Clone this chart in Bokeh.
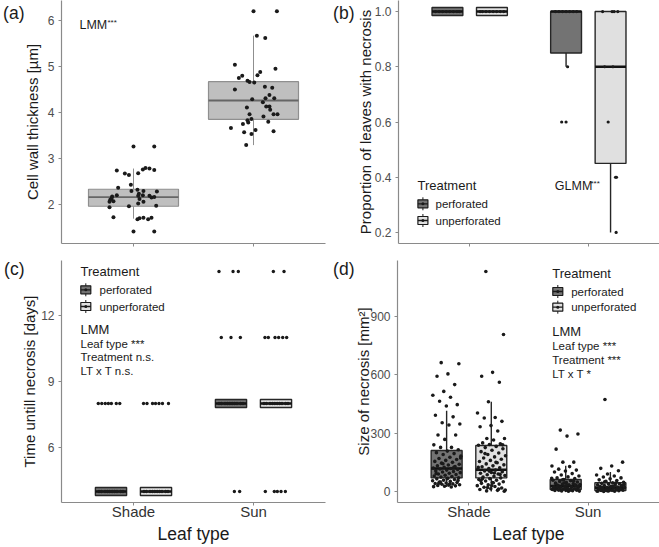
import math
from bokeh.plotting import figure
from bokeh.models import Range1d, FixedTicker, Label, LinearAxis
from bokeh.layouts import column, row
from bokeh.embed import file_html
from bokeh.resources import INLINE

FONT = "Liberation Sans"
INK = "#1a1a1a"
AXIS_GREY = "#8a8a8a"
TICK_TXT = "#4d4d4d"

# ---------------- data ----------------
leaf_types = ["Shade", "Sun"]
treatments = ["perforated", "unperforated"]
leaf_pos = [1, 2]
panel_tags = ["(a)", "(b)", "(c)", "(d)"]

# (a) cell wall thickness [um]
a_shade_thick = [3.26, 3.26, 2.74, 2.67, 2.64, 2.68, 2.76, 2.79, 2.78, 2.75, 2.43, 2.36, 2.29, 2.32,
                 2.29, 2.28, 2.23, 2.20, 2.19, 2.20, 2.17, 2.19, 2.15, 2.16, 2.13, 2.10, 2.07, 2.06,
                 2.12, 2.06, 2.02, 1.94, 1.96, 1.97, 1.72, 1.68, 1.70, 1.71, 1.68, 1.71, 1.41, 1.41]
a_shade_jitter = [0.0, 0.173, -0.139, -0.072, -0.038, 0.039, 0.078, 0.100, 0.133, 0.173, -0.022, -0.128,
                  -0.017, 0.033, 0.083, 0.195, 0.045, 0.078, 0.039, -0.139, -0.178, 0.133, 0.150, 0.173,
                  -0.183, -0.194, -0.167, -0.200, 0.050, 0.083, 0.039, -0.200, -0.038, 0.189, -0.167,
                  0.033, 0.050, 0.083, 0.122, 0.150, 0.0, 0.173]
a_sun_thick = [6.20, 6.20, 5.67, 5.62, 5.04, 4.95, 4.88, 4.81, 4.80, 4.75, 4.69, 4.66, 4.65, 4.56, 4.54,
               4.50, 4.38, 4.31, 4.31, 4.29, 4.22, 4.13, 4.13, 4.06, 4.11, 3.96, 3.96, 3.96, 3.91, 3.86,
               3.83, 3.78, 3.80, 3.75, 3.66, 3.62, 3.57, 3.59, 3.53, 3.29]
a_sun_jitter = [0.0, 0.195, 0.028, 0.098, -0.155, 0.183, 0.056, 0.033, -0.094, -0.122, -0.050, -0.033,
                0.006, 0.095, 0.156, -0.155, 0.133, 0.100, 0.173, -0.011, 0.078, 0.106, 0.133, 0.139,
                -0.055, -0.033, 0.167, 0.200, 0.083, -0.017, -0.050, -0.044, 0.123, -0.088, -0.188,
                0.017, -0.078, 0.167, -0.017, -0.061]
a_q1 = [1.96, 3.85]
a_med = [2.16, 4.26]
a_q3 = [2.33, 4.67]
a_lo = [1.69, 3.29]
a_hi = [2.78, 5.67]

# (b) proportion of leaves with necrosis
b_q1_perf = [1.0, 0.85]
b_med_perf = [1.0, 1.0]
b_q3_perf = [1.0, 1.0]
b_lo_perf = [1.0, 0.80]
b_hi_perf = [1.0, 1.0]
b_q1_unperf = [1.0, 0.45]
b_med_unperf = [1.0, 0.80]
b_q3_unperf = [1.0, 1.0]
b_lo_unperf = [1.0, 0.20]
b_hi_unperf = [1.0, 1.0]
b_shade_perf = [1.0, 1.0, 1.0, 1.0, 1.0, 1.0, 1.0, 1.0]
b_shade_perf_jit = [-0.10, -0.07, -0.04, -0.01, 0.02, 0.05, 0.08, 0.10]
b_shade_unperf = [1.0, 1.0, 1.0, 1.0, 1.0, 1.0, 1.0, 1.0]
b_shade_unperf_jit = [-0.10, -0.08, -0.05, -0.02, 0.01, 0.04, 0.07, 0.10]
b_sun_perf = [0.6, 0.6, 0.8, 1.0, 1.0, 1.0, 1.0, 1.0, 1.0, 1.0]
b_sun_perf_jit = [-0.037, 0.0, 0.013, -0.09, -0.06, -0.03, 0.0, 0.03, 0.06, 0.09]
b_sun_unperf = [0.2, 0.4, 0.4, 0.6, 0.8, 0.8, 1.0, 1.0, 1.0, 1.0]
b_sun_unperf_jit = [0.047, 0.042, 0.050, -0.020, -0.050, 0.020, -0.067, 0.013, 0.030, 0.061]

# (c) time until necrosis [days]
c_med = [4, 8]
c_shade_perf = [8, 8, 8, 8, 8, 8, 8, 4, 4, 4, 4, 4, 4, 4, 4, 4, 4]
c_shade_perf_jit = [-0.106, -0.077, -0.048, -0.022, 0.003, 0.044, 0.073,
                    -0.10, -0.08, -0.05, -0.03, -0.01, 0.01, 0.03, 0.05, 0.08, 0.10]
c_shade_unperf = [8, 8, 8, 8, 8, 8, 8, 4, 4, 4, 4, 4, 4, 4, 4, 4, 4]
c_shade_unperf_jit = [-0.104, -0.075, -0.029, -0.004, 0.025, 0.054, 0.104,
                      -0.10, -0.08, -0.05, -0.03, -0.01, 0.01, 0.03, 0.05, 0.08, 0.10]
c_sun_perf = [14, 14, 14, 11, 11, 11, 4, 4, 8, 8, 8, 8, 8, 8, 8, 8, 8, 8]
c_sun_perf_jit = [-0.100, 0.017, 0.061, -0.081, 0.0, 0.078, 0.028, 0.072,
                  -0.10, -0.08, -0.05, -0.03, -0.01, 0.01, 0.03, 0.05, 0.08, 0.10]
c_sun_unperf = [14, 14, 11, 11, 11, 11, 11, 11, 4, 4, 4, 4, 4, 8, 8, 8, 8, 8, 8, 8, 8, 8, 8]
c_sun_unperf_jit = [-0.022, 0.067, -0.092, -0.064, -0.008, 0.022, 0.056, 0.089,
                    -0.089, -0.014, 0.011, 0.042, 0.078,
                    -0.10, -0.08, -0.05, -0.03, -0.01, 0.01, 0.03, 0.05, 0.08, 0.10]

# (d) size of necrosis [mm2]
d_q1_perf = [70, 10]
d_med_perf = [118, 28]
d_q3_perf = [211, 62]
d_lo_perf = [23, 0]
d_hi_perf = [416, 132]
d_q1_unperf = [70, 5]
d_med_unperf = [112, 20]
d_q3_unperf = [237, 45]
d_lo_unperf = [0, 0]
d_hi_unperf = [462, 100]
d_shade_perf = [663, 657, 605, 593, 550, 515, 495, 485, 464, 447, 440, 392, 384, 354, 347, 342, 291, 291,
                268, 240, 227, 227, 215, 208, 200, 195, 190, 182, 176, 170, 165, 160, 155, 150, 146, 140,
                136, 132, 128, 125, 121, 118, 116, 113, 110, 106, 103, 100, 97, 94, 90, 87, 84, 80, 77,
                74, 71, 68, 65, 62, 58, 55, 52, 49, 46, 44, 41, 39, 37, 35, 33, 31, 29, 27, 25, 23, 48,
                57, 66, 93, 124, 143, 172, 38, 42]
d_shade_unperf = [1132, 808, 613, 593, 562, 462, 404, 381, 378, 361, 339, 333, 311, 273, 273, 265, 250,
                  246, 242, 238, 232, 226, 220, 212, 205, 198, 190, 184, 178, 172, 166, 160, 154, 148,
                  142, 137, 132, 127, 122, 118, 114, 110, 106, 102, 98, 94, 90, 86, 82, 78, 74, 70, 66,
                  62, 58, 54, 50, 46, 42, 38, 34, 30, 26, 22, 18, 14, 10, 6, 3, 1, 45, 65, 88, 105, 125,
                  150, 195, 240, 30, 55, 12, 20, 8, 95]
d_sun_perf = [316, 296, 285, 218, 151, 151, 131, 128, 115, 110, 105, 100, 92, 85, 80, 75, 70, 66, 62, 58,
              55, 52, 49, 46, 43, 40, 38, 36, 34, 32, 30, 28, 26, 24, 22, 20, 18, 16, 14, 12, 10, 9, 8,
              7, 6, 5, 4, 3, 2, 1, 25, 35, 45, 15, 11, 19, 27, 33, 41, 53, 60, 68, 5, 8, 13, 17, 21]
d_sun_unperf = [473, 151, 131, 119, 107, 90, 85, 80, 75, 70, 65, 60, 56, 52, 48, 45, 42, 40, 38, 35, 33,
                31, 29, 27, 25, 23, 21, 19, 17, 15, 13, 11, 10, 9, 8, 7, 6, 5, 4, 3, 2, 1, 0, 30, 24, 18,
                12, 6, 36, 28, 20, 14, 4, 2, 44, 50]

PERF_FILL = "#737373"
UNPERF_FILL = "#e0e0e0"
DODGE = 0.1875
BOXW = 0.26
X0, X1 = 0.4, 2.6


# ---------------- helpers ----------------
def make_fig(w, h, left, right, top, bottom, y0, y1, yticks, ylabels, ylabel, ystand, bottom_row,
             tag, tag_px, tag_stand):
    p = figure(width=w, height=h, x_range=Range1d(X0, X1), y_range=Range1d(y0, y1),
               output_backend="svg", toolbar_location=None,
               min_border_left=left, min_border_right=right,
               min_border_top=top, min_border_bottom=bottom)
    p.grid.visible = False
    p.outline_line_color = None
    p.background_fill_color = "white"
    p.border_fill_color = "white"
    for ax in (p.xaxis[0], p.yaxis[0]):
        ax.axis_line_color = AXIS_GREY
        ax.axis_line_width = 1.2
        ax.major_tick_line_color = AXIS_GREY
        ax.major_tick_in = 0
        ax.major_tick_out = 3
        ax.minor_tick_line_color = None
        ax.major_label_text_font = FONT
        ax.axis_label_text_font = FONT
        ax.axis_label_text_font_style = "normal"
        ax.axis_label_text_color = INK
    xa = p.xaxis[0]
    xa.ticker = FixedTicker(ticks=leaf_pos)
    if bottom_row:
        xa.major_label_overrides = {leaf_pos[i]: leaf_types[i] for i in range(2)}
        xa.major_label_text_font_size = "15px"
        xa.major_label_text_color = "#333333"
        xa.major_label_standoff = -3
        xa.axis_label = "Leaf type"
        xa.axis_label_text_font_size = "17.5px"
        xa.axis_label_standoff = 1
    else:
        xa.major_label_overrides = {leaf_pos[i]: "" for i in range(2)}
        xa.major_label_text_font_size = "10px"
        xa.major_label_standoff = -14
    ya = p.yaxis[0]
    ya.ticker = FixedTicker(ticks=yticks)
    ya.major_label_overrides = {t: l for t, l in zip(yticks, ylabels)}
    ya.major_label_text_font_size = "12px"
    ya.major_label_text_color = TICK_TXT
    ya.major_label_standoff = 4
    ya.axis_label = ylabel
    ya.axis_label_text_font_size = "15px"
    ya.axis_label_standoff = ystand
    fw = w - left - right
    fh = h - top - bottom
    p.tags = [fw, fh, y0, y1]
    # panel tag "(a)" etc. as a bare outer axis in the left panel
    tv = y1 - tag_px / fh * (y1 - y0)
    tax = LinearAxis(ticker=FixedTicker(ticks=[tv]), major_label_overrides={tv: tag},
                     axis_line_color=None, major_tick_line_color=None, minor_tick_line_color=None,
                     major_tick_out=0, major_tick_in=0, major_label_standoff=tag_stand,
                     major_label_text_font=FONT, major_label_text_font_size="17.5px",
                     major_label_text_color=INK)
    p.add_layout(tax, "left")
    return p


def to_data(p, rx, ry):
    fw, fh, y0, y1 = p.tags
    return X0 + rx / fw * (X1 - X0), y0 + ry / fh * (y1 - y0)


def txt(p, x, y, s, size, color=INK, align="left"):
    p.add_layout(Label(x=x, y=y, x_units="screen", y_units="screen", text=s,
                       text_font=FONT, text_font_size=f"{size}px", text_color=color,
                       text_align=align, text_baseline="middle"))


def draw_boxes(p, xc, q1, med, q3, lo, hi, w, fill, line, mcol, wcol, lw, mlw, wlw):
    p.segment(x0=xc, y0=q3, x1=xc, y1=hi, line_color=wcol, line_width=wlw)
    p.segment(x0=xc, y0=q1, x1=xc, y1=lo, line_color=wcol, line_width=wlw)
    for x, a, b in zip(xc, q1, q3):
        if b > a:
            p.quad(left=[x - w / 2], right=[x + w / 2], bottom=[a], top=[b],
                   fill_color=fill, line_color=line, line_width=lw)
        else:
            p.rect(x=[x], y=[a], width=w, height=8, height_units="screen",
                   fill_color=fill, line_color=line, line_width=lw)
    p.segment(x0=[x - w / 2 for x in xc], y0=med, x1=[x + w / 2 for x in xc], y1=med,
              line_color=mcol, line_width=mlw)


def pts(p, center, vals, jit, size=3.6):
    p.scatter(x=[center + j for j in jit], y=vals, size=size, marker="circle",
              fill_color=INK, line_color=None)


def golden_jitter(n, half=0.12):
    return [(((i * 0.6180339887 + 0.31) % 1.0) - 0.5) * 2 * half for i in range(n)]


def legend_block(p, tx, ty, kx, kys, lx):
    txt(p, tx, ty, "Treatment", 13)
    for name, fill, ky in zip(treatments, [PERF_FILL, UNPERF_FILL], kys):
        xd, yd = to_data(p, kx, ky)
        p.scatter([xd], [yd], marker="dash", angle=math.pi / 2, size=13, line_color=INK, line_width=1)
        p.rect([xd], [yd], width=10, height=8, width_units="screen", height_units="screen",
               fill_color=fill, line_color=INK, line_width=1.2)
        p.scatter([xd], [yd], marker="dash", size=10, line_color=INK, line_width=1.3)
        p.scatter([xd], [yd], marker="circle", size=3, fill_color=INK, line_color=None)
        txt(p, lx, ky, name, 11.5)


def dodge_boxes(p, q1p, medp, q3p, lop, hip, q1u, medu, q3u, lou, hiu):
    xp = [x - DODGE for x in leaf_pos]
    xu = [x + DODGE for x in leaf_pos]
    draw_boxes(p, xp, q1p, medp, q3p, lop, hip, BOXW, PERF_FILL, "#262626", "#111111", "#262626", 1.4, 2.6, 1.4)
    draw_boxes(p, xu, q1u, medu, q3u, lou, hiu, BOXW, UNPERF_FILL, "#262626", "#111111", "#262626", 1.4, 2.6, 1.4)


# ---------------- (a) ----------------
pa = make_fig(330, 252, 61, 5, 0, 9, 1.15, 6.435, [2, 3, 4, 5, 6], ["2", "3", "4", "5", "6"],
              "Cell wall thickness [µm]", 4, False, panel_tags[0], 12, -4)
draw_boxes(pa, leaf_pos, a_q1, a_med, a_q3, a_lo, a_hi, 0.75, "#bfbfbf", "#8f8f8f", "#666666",
           "#8f8f8f", 1.2, 1.8, 1.0)
pts(pa, 1, a_shade_thick, a_shade_jitter, 4)
pts(pa, 2, a_sun_thick, a_sun_jitter, 4)
txt(pa, 18, 219, "LMM", 12.5)
txt(pa, 46, 221.5, "***", 8)

# ---------------- (b) ----------------
pb = make_fig(329, 252, 67, 0, 0, 9, 0.16, 1.04, [0.2, 0.4, 0.6, 0.8, 1.0],
              ["0.2", "0.4", "0.6", "0.8", "1.0"], "Proportion of leaves with necrosis", -2, False,
              panel_tags[1], 12, -1)
dodge_boxes(pb, b_q1_perf, b_med_perf, b_q3_perf, b_lo_perf, b_hi_perf,
            b_q1_unperf, b_med_unperf, b_q3_unperf, b_lo_unperf, b_hi_unperf)
pts(pb, 1 - DODGE, b_shade_perf, b_shade_perf_jit, 3.2)
pts(pb, 1 + DODGE, b_shade_unperf, b_shade_unperf_jit, 3.2)
pts(pb, 2 - DODGE, b_sun_perf, b_sun_perf_jit, 3.2)
pts(pb, 2 + DODGE, b_sun_unperf, b_sun_unperf_jit, 3.2)
txt(pb, 156.3, 58, "GLMM", 12.5)
txt(pb, 192, 60.5, "***", 8)
legend_block(pb, 19, 58, 24.5, [39.7, 23], 37)

# ---------------- (c) ----------------
pc = make_fig(330, 295, 61, 5, 8, 45, 3.5, 14.5, [6, 9, 12], ["6", "9", "12"],
              "Time untill necrosis [days]", 0, True, panel_tags[2], 8, -6)
dodge_boxes(pc, c_med, c_med, c_med, c_med, c_med, c_med, c_med, c_med, c_med, c_med)
pts(pc, 1 - DODGE, c_shade_perf, c_shade_perf_jit, 3.4)
pts(pc, 1 + DODGE, c_shade_unperf, c_shade_unperf_jit, 3.4)
pts(pc, 2 - DODGE, c_sun_perf, c_sun_perf_jit, 3.4)
pts(pc, 2 + DODGE, c_sun_unperf, c_sun_unperf_jit, 3.4)
legend_block(pc, 19, 231, 24.3, [212.7, 196], 38)
txt(pc, 19, 173, "LMM", 13)
txt(pc, 19, 158.7, "Leaf type ***", 11.5)
txt(pc, 19, 145.3, "Treatment n.s.", 11.5)
txt(pc, 19, 132, "LT x T n.s.", 11.5)

# ---------------- (d) ----------------
pd_ = make_fig(329, 295, 67, 0, 8, 45, -56.6, 1188.6, [0, 300, 600, 900], ["0", "300", "600", "900"],
               "Size of necrosis [mm²]", -5, True, panel_tags[3], 8, -2)
dodge_boxes(pd_, d_q1_perf, d_med_perf, d_q3_perf, d_lo_perf, d_hi_perf,
            d_q1_unperf, d_med_unperf, d_q3_unperf, d_lo_unperf, d_hi_unperf)
pts(pd_, 1 - DODGE, d_shade_perf, golden_jitter(len(d_shade_perf)), 3.6)
pts(pd_, 1 + DODGE, d_shade_unperf, golden_jitter(len(d_shade_unperf)), 3.6)
pts(pd_, 2 - DODGE, d_sun_perf, golden_jitter(len(d_sun_perf)), 3.6)
pts(pd_, 2 + DODGE, d_sun_unperf, golden_jitter(len(d_sun_unperf)), 3.6)
legend_block(pd_, 154.7, 228.7, 160.3, [211, 195.3], 173.7)
txt(pd_, 154.7, 171, "LMM", 13)
txt(pd_, 154.7, 157, "Leaf type ***", 11.5)
txt(pd_, 154.7, 143, "Treatment ***", 11.5)
txt(pd_, 154.7, 128.7, "LT x T *", 11.5)

layout = column(row(pa, pb), row(pc, pd_))
open("out.html", "w").write(file_html(layout, INLINE))
